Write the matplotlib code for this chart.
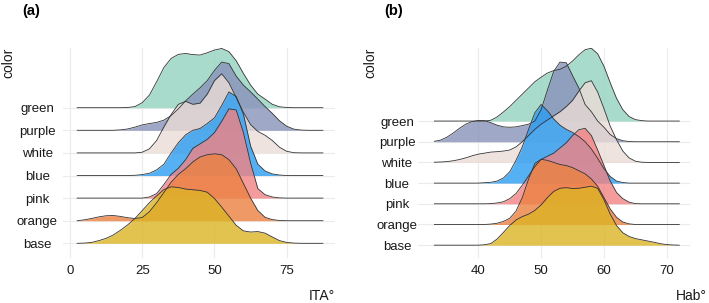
### ridgeline plots of ITA and Hab angles per color group
import matplotlib.pyplot as plt

plt.rcParams['font.family'] = ['Liberation Sans', 'DejaVu Sans']

# groups, bottom ridge first
groups = ['base', 'orange', 'pink', 'blue', 'white', 'purple', 'green']
fill_colors = ['#dcb424', '#ec8140', '#f28282', '#2b9cf2', '#ebdcd7', '#8892ba', '#92d3be']

# ---- panel (a): ITA, ridge heights (in row units) read at each grid value
ita_grid = [2.5, 5, 7.5, 10, 12.5, 15, 17.5, 20, 22.5, 25, 27.5, 30, 32.5, 35, 37.5,
            40, 42.5, 45, 47.5, 50, 52.5, 55, 57.5, 60, 62.5, 65, 67.5, 70, 72.5, 75,
            77.5, 80, 82.5, 85, 87.5]
ita_green = [0, 0, 0, 0, 0, 0, 0, 0.01, 0.05, 0.22, 0.56, 1.15, 1.78, 2.18, 2.36, 2.40,
             2.35, 2.33, 2.43, 2.55, 2.62, 2.48, 2.08, 1.52, 1.0, 0.6, 0.38, 0.15, 0.04,
             0.01, 0, 0, 0, 0, 0]
ita_purple = [0, 0, 0, 0, 0, 0, 0.02, 0.06, 0.14, 0.24, 0.3, 0.35, 0.45, 0.65, 0.95,
              1.3, 1.6, 1.88, 2.2, 2.65, 3.02, 2.95, 2.4, 2.0, 1.7, 1.38, 1.05, 0.75,
              0.42, 0.18, 0.05, 0.01, 0, 0, 0]
ita_white = [0, 0, 0, 0, 0, 0, 0, 0, 0, 0.03, 0.18, 0.55, 1.15, 1.7, 2.15, 2.28, 2.15,
             2.2, 2.6, 3.2, 3.5, 3.1, 2.45, 1.8, 1.25, 0.95, 0.78, 0.55, 0.25, 0.07,
             0.01, 0, 0, 0, 0]
ita_blue = [0, 0, 0, 0, 0, 0, 0, 0, 0.01, 0.04, 0.1, 0.25, 0.5, 1.0, 1.45, 1.8, 2.0,
            2.08, 2.3, 2.55, 3.1, 3.7, 3.5, 2.72, 1.3, 0.5, 0.2, 0.07, 0.02, 0, 0, 0,
            0, 0, 0]
ita_pink = [0, 0, 0, 0, 0, 0, 0, 0, 0, 0, 0.05, 0.2, 0.6, 1.05, 1.32, 1.7, 2.2, 2.4,
            2.6, 2.9, 3.4, 3.95, 3.9, 2.9, 1.55, 0.42, 0.15, 0.05, 0.01, 0, 0, 0, 0,
            0, 0]
ita_orange = [0, 0.04, 0.1, 0.17, 0.22, 0.23, 0.19, 0.13, 0.1, 0.14, 0.4, 0.8, 1.25,
              1.7, 2.05, 2.3, 2.6, 2.82, 2.92, 2.96, 2.92, 2.7, 2.3, 1.65, 1.0, 0.45,
              0.15, 0.05, 0.01, 0, 0, 0, 0, 0, 0]
ita_base = [0, 0.01, 0.04, 0.12, 0.22, 0.37, 0.58, 0.82, 1.1, 1.45, 1.8, 2.1, 2.38,
            2.5, 2.47, 2.4, 2.37, 2.34, 2.26, 1.98, 1.6, 1.2, 0.8, 0.55, 0.5, 0.52,
            0.45, 0.28, 0.12, 0.04, 0.01, 0, 0, 0, 0]

# ---- panel (b): Hab
hab_grid = [33, 34, 35, 36, 37, 38, 39, 40, 41, 42, 43, 44, 45, 46, 47, 48, 49, 50,
            51, 52, 53, 54, 55, 56, 57, 58, 59, 60, 61, 62, 63, 64, 65, 66, 67, 68,
            69, 70, 71, 72]
hab_green = [0, 0, 0, 0, 0, 0, 0, 0, 0, 0.04, 0.2, 0.44, 0.7, 1.0, 1.3, 1.6, 1.9, 2.12,
             2.32, 2.44, 2.5, 2.65, 2.9, 3.2, 3.45, 3.52, 3.25, 2.65, 1.85, 1.1, 0.55,
             0.22, 0.07, 0.02, 0, 0, 0, 0, 0, 0]
hab_purple = [0.02, 0.08, 0.22, 0.42, 0.65, 0.85, 0.97, 1.03, 1.02, 0.92, 0.8, 0.72,
              0.7, 0.72, 0.78, 0.85, 1.0, 1.55, 2.5, 3.4, 3.85, 3.82, 3.2, 2.6, 1.8,
              1.45, 1.0, 0.7, 0.35, 0.15, 0.05, 0.01, 0, 0, 0, 0, 0, 0, 0, 0]
hab_white = [0.01, 0.02, 0.04, 0.08, 0.14, 0.22, 0.32, 0.4, 0.45, 0.5, 0.52, 0.55, 0.6,
             0.75, 1.0, 1.3, 1.6, 1.85, 2.05, 2.25, 2.45, 2.7, 3.0, 3.45, 3.85, 3.95,
             3.4, 2.6, 1.75, 1.1, 0.55, 0.22, 0.06, 0.01, 0, 0, 0, 0, 0, 0]
hab_blue = [0, 0, 0, 0, 0, 0, 0, 0, 0.02, 0.04, 0.1, 0.25, 0.55, 1.1, 1.75, 2.6, 3.4,
            3.8, 3.5, 3.1, 2.8, 2.6, 2.45, 2.25, 2.0, 1.65, 1.2, 0.7, 0.32, 0.1, 0.03,
            0, 0, 0, 0, 0, 0, 0, 0, 0]
hab_pink = [0, 0, 0, 0, 0, 0, 0, 0, 0, 0.01, 0.04, 0.1, 0.25, 0.5, 0.9, 1.35, 1.8, 2.15,
            2.3, 2.45, 2.7, 2.95, 3.3, 3.58, 3.65, 3.3, 2.6, 1.85, 1.1, 0.55, 0.25,
            0.08, 0.01, 0, 0, 0, 0, 0, 0, 0]
hab_orange = [0, 0, 0, 0, 0, 0, 0, 0, 0, 0.02, 0.06, 0.15, 0.3, 0.65, 1.3, 2.2, 2.95,
              3.15, 3.1, 3.0, 2.9, 2.85, 2.75, 2.6, 2.45, 2.2, 1.85, 1.3, 0.75, 0.35,
              0.12, 0.03, 0, 0, 0, 0, 0, 0, 0, 0]
hab_base = [0, 0, 0, 0, 0, 0, 0, 0, 0.02, 0.08, 0.3, 0.62, 0.95, 1.22, 1.38, 1.5, 1.68,
            1.95, 2.3, 2.6, 2.75, 2.78, 2.74, 2.75, 2.8, 2.85, 2.75, 2.2, 1.5, 0.95,
            0.6, 0.42, 0.32, 0.26, 0.2, 0.14, 0.07, 0.03, 0.01, 0]

ita_rows = [ita_base, ita_orange, ita_pink, ita_blue, ita_white, ita_purple, ita_green]
hab_rows = [hab_base, hab_orange, hab_pink, hab_blue, hab_white, hab_purple, hab_green]


def ridges(ax, grid, rows, ticks, xlim, ylim, xlabel, ylab_pad, xlab_x):
    # top ridge first so lower ridges sit in front
    for i in range(len(groups) - 1, -1, -1):
        top = [i + 1 + v for v in rows[i]]
        ax.fill_between(grid, i + 1, top, color=fill_colors[i], alpha=0.8, lw=0)
        ax.plot(grid, top, color='#333333', lw=0.6)
    ax.set_xlim(xlim)
    ax.set_ylim(ylim)
    ax.set_xticks(ticks)
    ax.set_yticks(range(1, len(groups) + 1))
    ax.set_yticklabels(groups)
    for lab in ax.get_yticklabels():
        lab.set_horizontalalignment('center')
    ax.tick_params(axis='y', length=0, pad=ylab_pad, labelsize=9.5, labelcolor='#1a1a1a')
    ax.tick_params(axis='x', length=0, pad=5, labelsize=9.5, labelcolor='#1a1a1a')
    ax.grid(color='#ebebeb', lw=0.8)
    ax.set_axisbelow(True)
    for s in ax.spines.values():
        s.set_visible(False)
    ax.set_xlabel(xlabel, loc='right', fontsize=10, color='#1a1a1a')
    ax.xaxis.set_label_coords(xlab_x, -0.148)
    ax.set_ylabel('color', loc='top', fontsize=10, color='#1a1a1a')


fig = plt.figure(figsize=(7.09, 3.03), dpi=100)
ax_a = fig.add_axes([0.0889, 0.1485, 0.3836, 0.693])
ax_b = fig.add_axes([0.5896, 0.1485, 0.3836, 0.693])

ridges(ax_a, ita_grid, ita_rows, [0, 25, 50, 75], (-2.4, 91.7), (0.35, 9.64),
       'ITA°', 18.5, 1.0)
ridges(ax_b, hab_grid, hab_rows, [40, 50, 60, 70], (30.4, 73.7), (0.38, 10.53),
       'Hab°', 15.1, 1.0625)
ax_a.yaxis.set_label_coords(-0.1765, 1.0)
ax_b.yaxis.set_label_coords(-0.151, 1.0)

fig.text(22 / 709, 1 - 4 / 303, '(a)', fontsize=10.5, fontweight='bold', va='top')
fig.text(384 / 709, 1 - 4 / 303, '(b)', fontsize=10.5, fontweight='bold', va='top')

fig.savefig('out.png', dpi=100)
